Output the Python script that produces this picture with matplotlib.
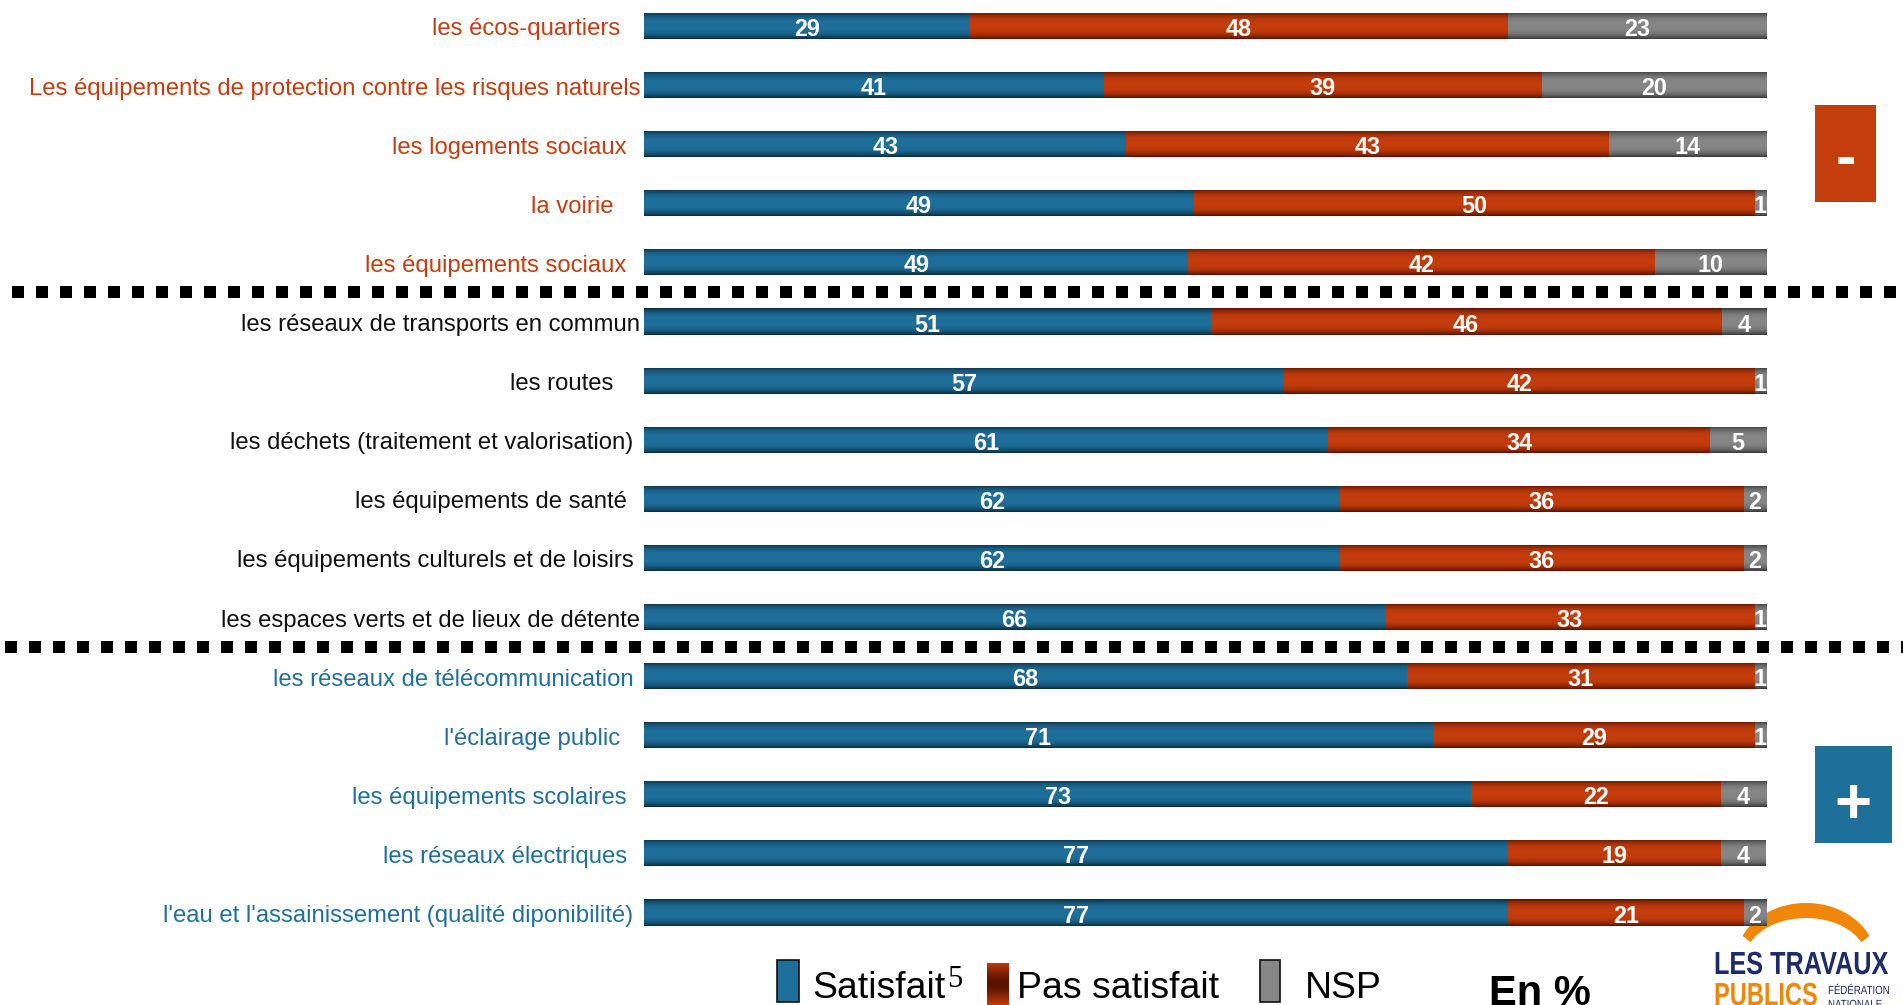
import numpy as np
import matplotlib
matplotlib.use("Agg")
import matplotlib.pyplot as plt
from matplotlib.patches import Rectangle, Polygon
from matplotlib.colors import to_rgb
from matplotlib.transforms import blended_transform_factory, Affine2D
from matplotlib.patheffects import AbstractPathEffect

# ---------------- data ----------------
categories = [
    "les écos-quartiers   ",
    "Les équipements de protection contre les risques naturels",
    "les logements sociaux  ",
    "la voirie    ",
    "les équipements sociaux  ",
    "les réseaux de transports en commun",
    "les routes    ",
    "les déchets (traitement et valorisation) ",
    "les équipements de santé  ",
    "les équipements culturels et de loisirs ",
    "les espaces verts et de lieux de détente",
    "les réseaux de télécommunication ",
    "l'éclairage public   ",
    "les équipements scolaires  ",
    "les réseaux électriques  ",
    "l'eau et l'assainissement (qualité diponibilité) ",
]
satisfait = [29, 41, 43, 49, 49, 51, 57, 61, 62, 62, 66, 68, 71, 73, 77, 77]
pas_satisfait = [48, 39, 43, 50, 42, 46, 42, 34, 36, 36, 33, 31, 29, 22, 19, 21]
nsp = [23, 20, 14, 1, 10, 4, 1, 5, 2, 2, 1, 1, 1, 4, 4, 2]
groups = [0] * 5 + [1] * 6 + [2] * 5
series_names = ["Satisfait", "Pas satisfait", "NSP"]
group_separators = [4.5, 10.5]

# ---------------- style ----------------
BLUE, BLUE_D = "#1F6F9B", "#0A2B3F"
RED, RED_D = "#C43D0C", "#581300"
GREY, GREY_D = "#868686", "#383838"
ORANGE_TXT = "#C63D0F"
BLUE_TXT = "#1F70A0"
group_colors = [ORANGE_TXT, "#111111", BLUE_TXT]
LOGO_NAVY = "#1B2B6B"
LOGO_ORANGE = "#F0870A"
SFAM = ["Liberation Sans", "DejaVu Sans"]

W, H = 1903, 1005
fig = plt.figure(figsize=(W / 100, H / 100), dpi=100)
fig.patch.set_facecolor("white")


def fx(x):
    return x / W


def fy(y):
    return 1 - y / H


class Squeeze(AbstractPathEffect):
    """Horizontally condense text glyphs around a display x anchor."""

    def __init__(self, sx, x0):
        super().__init__()
        self.sx, self.x0 = sx, x0

    def draw_path(self, renderer, gc, tpath, affine, rgbFace=None):
        t = affine + Affine2D().translate(-self.x0, 0).scale(self.sx, 1).translate(self.x0, 0)
        renderer.draw_path(gc, tpath, t, rgbFace)


# bar axes: x 0..100 -> px 644..1766 ; rows centred at 26 + 59.1*i
ax = fig.add_axes([fx(644), 45 / H, (1766 - 644) / W, 960 / H])
ylo, yhi = (960 - 26) / 59.1, (0 - 26) / 59.1

n = len(categories)
y = np.arange(n)
tot = np.array(satisfait) + np.array(pas_satisfait) + np.array(nsp)
s_pct = np.array(satisfait) / tot * 100
p_pct = np.array(pas_satisfait) / tot * 100
n_pct = np.array(nsp) / tot * 100

bh = 0.44
b1 = ax.barh(y, s_pct, height=bh, color=BLUE, zorder=2)
b2 = ax.barh(y, p_pct, left=s_pct, height=bh, color=RED, zorder=2)
b3 = ax.barh(y, n_pct, left=s_pct + p_pct, height=bh, color=GREY, zorder=2)


def grad_img(mid, dark, invert=False):
    t = np.linspace(0, 1, 64)
    g = 1 - np.abs(2 * t - 1) ** 3
    if invert:
        g = np.abs(2 * t - 1) ** 1.5
    mid = np.array(to_rgb(mid))
    dark = np.array(to_rgb(dark))
    return (dark[None, :] + (mid - dark)[None, :] * g[:, None])[:, None, :]


def shade(bars, mid, dark):
    img = grad_img(mid, dark)
    for p in bars:
        x0, y0, w, h = p.get_x(), p.get_y(), p.get_width(), p.get_height()
        im = ax.imshow(img, extent=(x0, x0 + w, y0 + h, y0), aspect="auto",
                       interpolation="bilinear", zorder=3)
        im.set_clip_path(p)


shade(b1, BLUE, BLUE_D)
shade(b2, RED, RED_D)
shade(b3, GREY, GREY_D)

txt_dy = 10 / 59.1
for bars, vals in ((b1, satisfait), (b2, pas_satisfait), (b3, nsp)):
    for p, v in zip(bars, vals):
        ax.text(p.get_x() + p.get_width() / 2, p.get_y() + p.get_height() / 2 + txt_dy, str(v),
                ha="center", va="baseline", color="white", fontsize=16.8,
                fontweight="bold", family=SFAM, zorder=5)

for i, (lab, g) in enumerate(zip(categories, groups)):
    ax.text(-0.35, i + 9.5 / 59.1, lab, ha="right", va="baseline", color=group_colors[g],
            fontsize=17.2, family=SFAM, clip_on=False)

ax.set_xlim(0, 100)
ax.set_ylim(ylo, yhi)
ax.axis("off")

# dotted separators (figure-wide)
tr = blended_transform_factory(fig.transFigure, ax.transData)
for yy, x0 in zip(group_separators, (12, 5)):
    ax.plot([fx(x0), 1.0], [yy, yy], transform=tr, color="black", lw=8.64,
            dashes=(1.0, 1.0), dash_capstyle="butt", clip_on=False, zorder=1)

# side boxes
fig.patches.append(Rectangle((fx(1815), fy(202)), (1876 - 1815) / W, (202 - 105) / H,
                             transform=fig.transFigure, facecolor=RED, edgecolor="none"))
fig.text(fx(1846), fy(160), "-", ha="center", va="center", color="white",
         fontsize=44, fontweight="bold", family=SFAM)
fig.patches.append(Rectangle((fx(1815), fy(843)), (1892 - 1815) / W, (843 - 746) / H,
                             transform=fig.transFigure, facecolor=BLUE, edgecolor="none"))
fig.text(fx(1853), fy(806), "+", ha="center", va="center", color="white",
         fontsize=46, fontweight="bold", family=SFAM)

# legend
leg_text_x = [812, 1017, 1305]
fig.patches.append(Rectangle((fx(777), fy(1002)), 22 / W, 42 / H, transform=fig.transFigure,
                             facecolor=BLUE, edgecolor="#111111", lw=1.2))
fig.patches.append(Rectangle((fx(1260), fy(1002)), 20 / W, 42 / H, transform=fig.transFigure,
                             facecolor=GREY, edgecolor="#111111", lw=1.2))
sw = fig.add_axes([fx(987), fy(1005), 22 / W, 42 / H])
sw.imshow(grad_img(RED, RED_D, invert=True), aspect="auto", interpolation="bilinear",
          extent=(0, 1, 0, 1))
sw.axis("off")
for name, tx in zip(series_names, leg_text_x):
    fig.text(fx(tx), fy(998), name, ha="left", va="baseline", color="black",
             fontsize=26.9, family=SFAM)
fig.text(fx(947), fy(987), "5", ha="left", va="baseline", color="black",
         fontsize=22, family=["Liberation Serif", "DejaVu Serif"])
fig.text(fx(1489), fy(1005), "En %", ha="left", va="baseline", color="black",
         fontsize=30, fontweight="bold", family=SFAM)

# logo: orange arc band
t = np.radians(np.linspace(25, 155, 80))
cx, cy = 1806, 960
outer = np.column_stack([cx + 70 * np.cos(t), cy - 57 * np.sin(t)])
inner = np.column_stack([cx + 61 * np.cos(t[::-1]), cy - 42 * np.sin(t[::-1])])
band = np.vstack([outer, inner])
band_fig = np.column_stack([band[:, 0] / W, 1 - band[:, 1] / H])
fig.patches.append(Polygon(band_fig, closed=True, transform=fig.transFigure,
                           facecolor=LOGO_ORANGE, edgecolor="none", zorder=-1))
fig.text(fx(1714), fy(974), "LES TRAVAUX", ha="left", va="baseline", color=LOGO_NAVY,
         fontsize=23, fontweight="bold", family=SFAM,
         path_effects=[Squeeze(0.79, 1714)])
fig.text(fx(1714), fy(1005), "PUBLICS", ha="left", va="baseline", color=LOGO_ORANGE,
         fontsize=23, fontweight="bold", family=SFAM,
         path_effects=[Squeeze(0.74, 1714)])
fig.text(fx(1828), fy(994), "FÉDÉRATION", ha="left", va="baseline", color=LOGO_NAVY,
         fontsize=8.5, family=SFAM, path_effects=[Squeeze(0.82, 1828)])
fig.text(fx(1828), fy(1008), "NATIONALE", ha="left", va="baseline", color=LOGO_NAVY,
         fontsize=8.5, family=SFAM, path_effects=[Squeeze(0.82, 1828)])

fig.savefig("out.png", dpi=100, facecolor="white")
